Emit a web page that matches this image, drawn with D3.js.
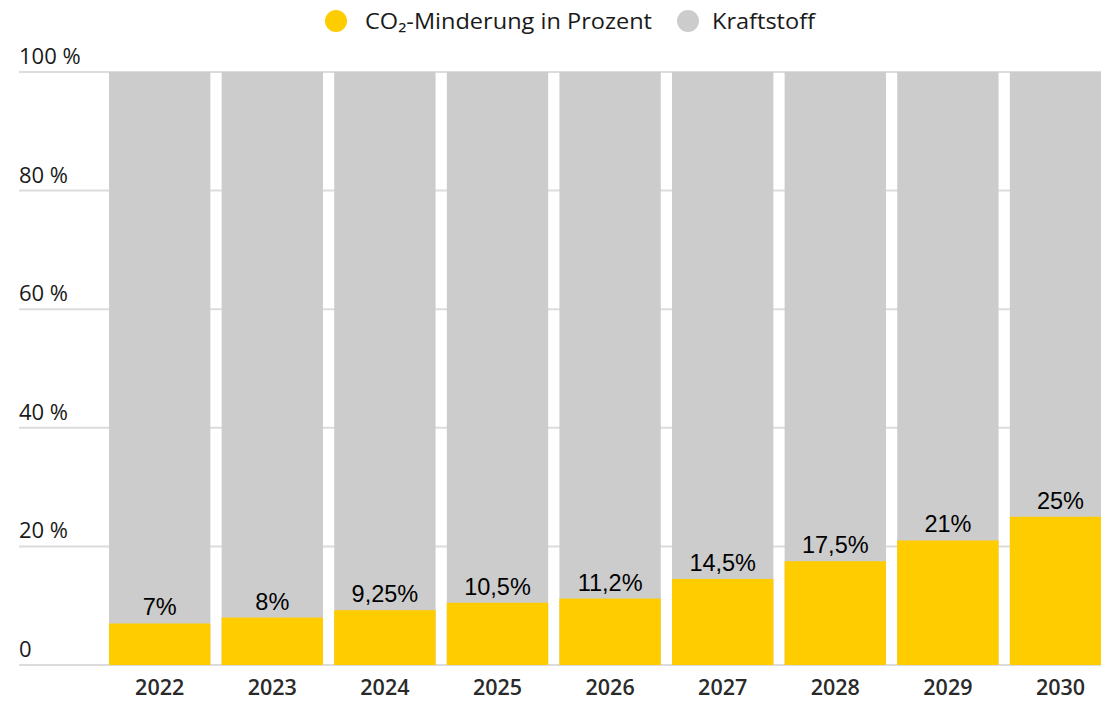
<!DOCTYPE html>
<html><head><meta charset="utf-8">
<script src="https://cdn.jsdelivr.net/npm/d3@7/dist/d3.min.js"></script>
<style>body{margin:0;background:#fff;}svg{display:block;}</style>
</head><body>
<script>
const years = ["2022","2023","2024","2025","2026","2027","2028","2029","2030"];
const co2Values = [7, 8, 9.25, 10.5, 11.2, 14.5, 17.5, 21, 25];
const valueLabels = ["7%","8%","9,25%","10,5%","11,2%","14,5%","17,5%","21%","25%"];
const yTicks = [0, 20, 40, 60, 80, 100];
const yTickLabels = ["0","20 %","40 %","60 %","80 %","100 %"];
const seriesNames = ["CO\u2082-Minderung in Prozent","Kraftstoff"];
const seriesColors = ["#FFCC00","#CCCCCC"];

const W = 1101, H = 701;
const svg = d3.select("body").append("svg").attr("width", W).attr("height", H);

const y = d3.scaleLinear().domain([0,100]).range([665, 72]);
const x = d3.scaleBand().domain(years).range([103.4, 103.4 + 9*112.6]).paddingInner(0.1).paddingOuter(0.05);

// grid lines
svg.append("g").selectAll("line").data(yTicks).join("line")
  .attr("x1", 19).attr("x2", W)
  .attr("y1", d => y(d)).attr("y2", d => y(d))
  .attr("stroke", "#dcdcdc").attr("stroke-width", 2);

// y labels
svg.append("g").selectAll("text").data(yTicks).join("text")
  .attr("x", 19).attr("y", d => y(d) - 8)
  .attr("font-family", "Open Sans, sans-serif").attr("font-size", 22)
  .attr("fill", "#1a1a1a")
  .text((d,i) => yTickLabels[i]);

// gray full bars
svg.append("g").selectAll("rect").data(years).join("rect")
  .attr("x", d => x(d)).attr("width", x.bandwidth())
  .attr("y", y(100)).attr("height", y(0) - y(100))
  .attr("fill", seriesColors[1]);

// yellow bars
svg.append("g").selectAll("rect").data(co2Values).join("rect")
  .attr("x", (d,i) => x(years[i])).attr("width", x.bandwidth())
  .attr("y", d => y(d)).attr("height", d => y(0) - y(d))
  .attr("fill", seriesColors[0]);

// value labels
svg.append("g").selectAll("text").data(co2Values).join("text")
  .attr("x", (d,i) => x(years[i]) + x.bandwidth()/2)
  .attr("y", d => y(d) - 8)
  .attr("text-anchor", "middle")
  .attr("font-family", "Liberation Sans, Arial, sans-serif").attr("font-size", 23.5)
  .attr("fill", "#000")
  .text((d,i) => valueLabels[i]);

// x axis labels
svg.append("g").selectAll("text").data(years).join("text")
  .attr("x", d => x(d) + x.bandwidth()/2)
  .attr("y", 695)
  .attr("text-anchor", "middle")
  .attr("font-family", "Open Sans, sans-serif").attr("font-size", 21.5).attr("font-weight", 600)
  .attr("fill", "#2a2a2a")
  .text(d => d);

// legend
const legend = svg.append("g");
const legendItems = [{cx: 336, tx: 365, w: 287}, {cx: 688, tx: 712, w: 103}];
legendItems.forEach((it, i) => {
  legend.append("circle").attr("cx", it.cx).attr("cy", 21).attr("r", 11).attr("fill", seriesColors[i]);
  legend.append("text").attr("x", it.tx).attr("y", 29)
    .attr("font-family", "Open Sans, sans-serif").attr("font-size", 21)
    .attr("fill", "#1a1a1a")
    .attr("textLength", it.w).attr("lengthAdjust", "spacingAndGlyphs")
    .text(seriesNames[i]);
});
</script>
</body></html>
